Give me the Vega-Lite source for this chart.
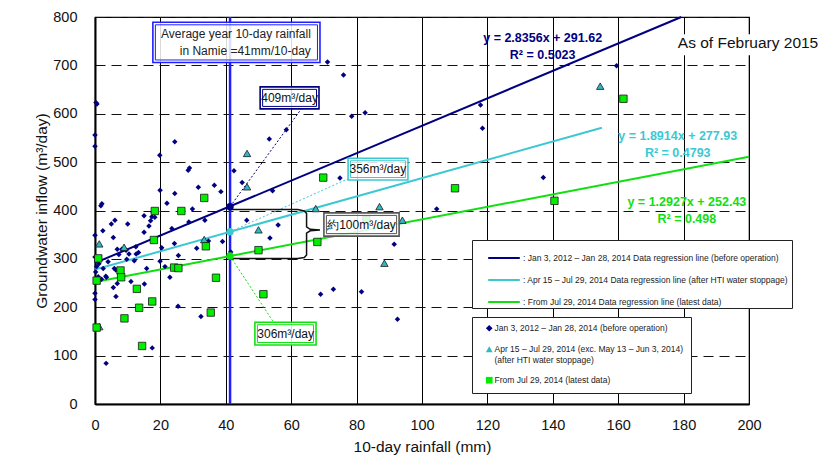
{
  "$schema": "https://vega.github.io/schema/vega-lite/v6.json",
  "width": 654,
  "height": 387,
  "autosize": {"type": "none"},
  "padding": {"left": 95, "top": 17, "right": 82, "bottom": 57},
  "background": "white",
  "config": {
    "view": {"stroke": "#000", "strokeWidth": 1.2},
    "font": "Liberation Sans"
  },
  "datasets": {
    "pts": [
      {"rain":0.3,"inflow":623,"series":"A"},{"rain":0.6,"inflow":620,"series":"A"},{"rain":0,"inflow":556,"series":"A"},{"rain":0,"inflow":533,"series":"A"},
      {"rain":1.8,"inflow":410,"series":"A"},{"rain":2.1,"inflow":414,"series":"A"},{"rain":0,"inflow":349,"series":"A"},{"rain":2.4,"inflow":358,"series":"A"},
      {"rain":5.0,"inflow":372,"series":"A"},{"rain":6.1,"inflow":380,"series":"A"},{"rain":5.6,"inflow":344,"series":"A"},{"rain":10,"inflow":372,"series":"A"},
      {"rain":15,"inflow":355,"series":"A"},{"rain":15,"inflow":389,"series":"A"},{"rain":16.5,"inflow":368,"series":"A"},{"rain":17,"inflow":379,"series":"A"},
      {"rain":17.4,"inflow":387,"series":"A"},{"rain":17.8,"inflow":396,"series":"A"},{"rain":19.9,"inflow":442,"series":"A"},{"rain":19.8,"inflow":514,"series":"A"},
      {"rain":22,"inflow":415,"series":"A"},{"rain":23.5,"inflow":363,"series":"A"},{"rain":24.4,"inflow":435,"series":"A"},{"rain":24.4,"inflow":542,"series":"A"},
      {"rain":28.5,"inflow":483,"series":"A"},{"rain":28.9,"inflow":488,"series":"A"},{"rain":29.8,"inflow":403,"series":"A"},{"rain":28.7,"inflow":376,"series":"A"},
      {"rain":31.6,"inflow":448,"series":"A"},{"rain":33.6,"inflow":380,"series":"A"},{"rain":36.5,"inflow":452,"series":"A"},{"rain":38.5,"inflow":439,"series":"A"},
      {"rain":42.5,"inflow":482,"series":"A"},{"rain":45,"inflow":458,"series":"A"},{"rain":46.4,"inflow":380,"series":"A"},{"rain":53.3,"inflow":548,"series":"A"},
      {"rain":54.3,"inflow":441,"series":"A"},{"rain":53.5,"inflow":343,"series":"A"},{"rain":56,"inflow":370,"series":"A"},{"rain":58.5,"inflow":567,"series":"A"},
      {"rain":71.1,"inflow":707,"series":"A"},{"rain":76,"inflow":680,"series":"A"},{"rain":78.5,"inflow":595,"series":"A"},{"rain":82.6,"inflow":602,"series":"A"},
      {"rain":74.9,"inflow":467,"series":"A"},{"rain":159.5,"inflow":699,"series":"A"},{"rain":117.9,"inflow":618,"series":"A"},{"rain":118.5,"inflow":570,"series":"A"},
      {"rain":137.1,"inflow":468,"series":"A"},{"rain":104.5,"inflow":403,"series":"A"},{"rain":91.5,"inflow":330,"series":"A"},{"rain":69,"inflow":227,"series":"A"},
      {"rain":72.9,"inflow":237,"series":"A"},{"rain":81.5,"inflow":232,"series":"A"},{"rain":92.5,"inflow":175,"series":"A"},{"rain":0,"inflow":304,"series":"A"},
      {"rain":0.2,"inflow":273,"series":"A"},{"rain":0.5,"inflow":284,"series":"A"},{"rain":0,"inflow":229,"series":"A"},{"rain":0,"inflow":216,"series":"A"},
      {"rain":1,"inflow":263,"series":"A"},{"rain":2,"inflow":258,"series":"A"},{"rain":3.3,"inflow":264,"series":"A"},{"rain":3.5,"inflow":262,"series":"A"},
      {"rain":4,"inflow":294,"series":"A"},{"rain":2.5,"inflow":280,"series":"A"},{"rain":5.6,"inflow":241,"series":"A"},{"rain":5.9,"inflow":280,"series":"A"},
      {"rain":6.4,"inflow":277,"series":"A"},{"rain":6.4,"inflow":222,"series":"A"},{"rain":6.8,"inflow":249,"series":"A"},{"rain":6.8,"inflow":320,"series":"A"},
      {"rain":7.3,"inflow":309,"series":"A"},{"rain":8.2,"inflow":320,"series":"A"},{"rain":9.5,"inflow":318,"series":"A"},{"rain":9.7,"inflow":299,"series":"A"},
      {"rain":10.4,"inflow":310,"series":"A"},{"rain":11,"inflow":253,"series":"A"},{"rain":12,"inflow":296,"series":"A"},{"rain":12.5,"inflow":325,"series":"A"},
      {"rain":13.3,"inflow":313,"series":"A"},{"rain":15.1,"inflow":248,"series":"A"},{"rain":15.8,"inflow":280,"series":"A"},{"rain":17.5,"inflow":116,"series":"A"},
      {"rain":18.3,"inflow":386,"series":"A"},{"rain":19.9,"inflow":295,"series":"A"},{"rain":20.4,"inflow":323,"series":"A"},{"rain":21.4,"inflow":284,"series":"A"},
      {"rain":22.9,"inflow":262,"series":"A"},{"rain":24.3,"inflow":332,"series":"A"},{"rain":25.4,"inflow":202,"series":"A"},{"rain":25.5,"inflow":307,"series":"A"},
      {"rain":31.1,"inflow":322,"series":"A"},{"rain":32.4,"inflow":181,"series":"A"},{"rain":34.7,"inflow":337,"series":"A"},{"rain":39,"inflow":336,"series":"A"},
      {"rain":41.5,"inflow":314,"series":"A"},{"rain":3.4,"inflow":84,"series":"A"},{"rain":12.6,"inflow":310,"series":"A"},{"rain":1.2,"inflow":290,"series":"A"},
      {"rain":1.3,"inflow":331,"series":"B"},{"rain":1.3,"inflow":160,"series":"B"},{"rain":8.9,"inflow":324,"series":"B"},{"rain":33.4,"inflow":340,"series":"B"},
      {"rain":46.5,"inflow":518,"series":"B"},{"rain":46.5,"inflow":449,"series":"B"},{"rain":50,"inflow":360,"series":"B"},{"rain":67.5,"inflow":404,"series":"B"},
      {"rain":87,"inflow":408,"series":"B"},{"rain":88.5,"inflow":291,"series":"B"},{"rain":94,"inflow":380,"series":"B"},{"rain":154.5,"inflow":657,"series":"B"},
      {"rain":1,"inflow":301,"series":"C"},{"rain":0.5,"inflow":255,"series":"C"},{"rain":0.5,"inflow":158,"series":"C"},{"rain":7.8,"inflow":276,"series":"C"},
      {"rain":8,"inflow":262,"series":"C"},{"rain":9,"inflow":177,"series":"C"},{"rain":12.8,"inflow":238,"series":"C"},{"rain":13.5,"inflow":199,"series":"C"},
      {"rain":14.4,"inflow":120,"series":"C"},{"rain":17.5,"inflow":212,"series":"C"},{"rain":18,"inflow":339,"series":"C"},{"rain":18.3,"inflow":399,"series":"C"},
      {"rain":24.2,"inflow":282,"series":"C"},{"rain":25.5,"inflow":281,"series":"C"},{"rain":26.4,"inflow":399,"series":"C"},{"rain":33.4,"inflow":426,"series":"C"},
      {"rain":33.9,"inflow":326,"series":"C"},{"rain":35.4,"inflow":189,"series":"C"},{"rain":37,"inflow":261,"series":"C"},{"rain":50,"inflow":318,"series":"C"},
      {"rain":51.5,"inflow":227,"series":"C"},{"rain":68,"inflow":335,"series":"C"},{"rain":69.8,"inflow":468,"series":"C"},{"rain":83,"inflow":380,"series":"C"},
      {"rain":110.1,"inflow":446,"series":"C"},{"rain":140.5,"inflow":420,"series":"C"},{"rain":161.6,"inflow":631,"series":"C"}
    ],
    "reg": [
      {"rain":0,"inflow":291.6,"reg":"LA"},{"rain":179.3,"inflow":800,"reg":"LA"},
      {"rain":0,"inflow":277.9,"reg":"LB"},{"rain":155,"inflow":571,"reg":"LB"},
      {"rain":0,"inflow":252.4,"reg":"LC"},{"rain":200,"inflow":511,"reg":"LC"}
    ],
    "conn": [
      {"rain":41.3,"inflow":408,"reg":"A"},{"rain":63.2,"inflow":611,"reg":"A"},
      {"rain":41.3,"inflow":356,"reg":"B"},{"rain":77.5,"inflow":466,"reg":"B"},
      {"rain":41.3,"inflow":306,"reg":"C"},{"rain":54.5,"inflow":170,"reg":"C"}
    ],
    "mark41": [
      {"rain":41.3,"inflow":408,"reg":"A"},{"rain":41.3,"inflow":356,"reg":"B"},{"rain":41.3,"inflow":306,"reg":"C"}
    ],
    "brace": [
      {"rain":41.3,"inflow":402,"o":1},{"rain":62,"inflow":402,"o":2},{"rain":64,"inflow":399,"o":3},{"rain":64.7,"inflow":394,"o":4},
      {"rain":64.7,"inflow":366,"o":5},{"rain":65.8,"inflow":361,"o":6},{"rain":68.8,"inflow":359.5,"o":7},{"rain":65.8,"inflow":358,"o":8},
      {"rain":64.7,"inflow":353,"o":9},{"rain":64.7,"inflow":308,"o":10},{"rain":64,"inflow":303,"o":11},{"rain":62,"inflow":301,"o":12},
      {"rain":41.3,"inflow":301,"o":13}
    ],
    "avgline": [{"rain":41.3}],
    "boxes": [
      {"rain":17.7,"rain2":68.8,"inflow":789,"inflow2":706,"col":"avg"},
      {"rain":50.5,"rain2":68.5,"inflow":655.6,"inflow2":610,"col":"A"},
      {"rain":77.4,"rain2":95.7,"inflow":508,"inflow2":463,"col":"B"},
      {"rain":48.9,"rain2":67.6,"inflow":169,"inflow2":122,"col":"C"},
      {"rain":70.0,"rain2":93.0,"inflow":395,"inflow2":347,"col":"grey"}
    ],
    "bg": [{"rain":178,"rain2":221.4,"inflow":764.5,"inflow2":721}],
    "notes": [
      {"rain":136.9,"inflow":756,"text":"y = 2.8356x + 291.62","col":"A","g":"eq"},
      {"rain":136.9,"inflow":721,"text":"R² = 0.5023","col":"A","g":"eq"},
      {"rain":178.2,"inflow":554,"text":"y = 1.8914x + 277.93","col":"B","g":"eq"},
      {"rain":178.2,"inflow":519,"text":"R² = 0.4793","col":"B","g":"eq"},
      {"rain":181,"inflow":417,"text":"y = 1.2927x + 252.43","col":"C","g":"eq"},
      {"rain":181,"inflow":382,"text":"R² = 0.498","col":"C","g":"eq"},
      {"rain":59.5,"inflow":633,"text":"409m³/day","g":"lab"},
      {"rain":86.5,"inflow":485.5,"text":"356m³/day","g":"lab"},
      {"rain":58.3,"inflow":145.7,"text":"306m³/day","g":"lab"},
      {"rain":81.5,"inflow":371,"text":"約100m³/day","g":"lab"},
      {"rain":66.0,"inflow":764,"text":"Average year 10-day rainfall","g":"avg"},
      {"rain":66.0,"inflow":729,"text":"in Namie =41mm/10-day","g":"avg"},
      {"rain":199.7,"inflow":746,"text":"As of February 2015","g":"asof"}
    ]
  },
  "layer": [
    {
      "data": {"name": "bg"},
      "mark": {"type": "rect", "fill": "white"},
      "encoding": {
        "x": {"field": "rain", "type": "quantitative",
          "scale": {"domain": [0, 200], "nice": false, "zero": false},
          "axis": {"title": "10-day rainfall (mm)", "values": [0,20,40,60,80,100,120,140,160,180,200],
            "grid": true, "gridColor": "#000", "gridWidth": 1, "gridOpacity": 1, "ticks": false,
            "domainColor": "#000", "domainWidth": 2, "labelFontSize": 14.5, "labelColor": "#111",
            "labelPadding": 14, "labelFlush": false, "labelOverlap": false, "titleFontSize": 15.5,
            "titleFontWeight": "normal", "titleColor": "#111", "titlePadding": 8}},
        "x2": {"field": "rain2"},
        "y": {"field": "inflow", "type": "quantitative",
          "scale": {"domain": [0, 800], "nice": false},
          "axis": {"title": "Groundwater inflow (m³/day)", "values": [0,100,200,300,400,500,600,700,800],
            "grid": true, "gridColor": "#111", "gridDash": [10, 6], "gridWidth": 1, "gridOpacity": 1, "ticks": false,
            "domainColor": "#000", "domainWidth": 2, "labelFontSize": 14.5, "labelColor": "#111",
            "labelPadding": 18, "labelOverlap": false, "titleFontSize": 15.5, "titleFontWeight": "normal",
            "titleColor": "#111", "titlePadding": 3}},
        "y2": {"field": "inflow2"}
      }
    },
    {
      "data": {"name": "avgline"},
      "mark": {"type": "rule", "color": "#1f1fff", "strokeWidth": 2.5},
      "encoding": {"x": {"field": "rain", "type": "quantitative"}}
    },
    {
      "data": {"name": "reg"},
      "mark": {"type": "line", "strokeWidth": 2},
      "encoding": {
        "x": {"field": "rain", "type": "quantitative"},
        "y": {"field": "inflow", "type": "quantitative"},
        "stroke": {"field": "reg", "type": "nominal",
          "scale": {"domain": ["LA","LB","LC"], "range": ["#000080","#3cc8d2","#10e010"]},
          "legend": {"title": null, "orient": "none", "legendX": 377, "legendY": 223, "direction": "vertical",
            "fillColor": "white", "strokeColor": "#222", "padding": 1, "symbolType": "stroke", "symbolSize": 1000,
            "symbolStrokeWidth": 2, "symbolOffset": 14, "labelFont": "Liberation Sans", "labelFontSize": 8.5,
            "labelColor": "#222", "labelOffset": 2, "rowPadding": -16, "labelLimit": 400,
            "labelExpr": "datum.value == 'LA' ? ': Jan 3, 2012 – Jan 28, 2014  Data regression line (before operation)' : datum.value == 'LB' ? ': Apr 15 – Jul 29, 2014  Data regression line (after HTI water stoppage)' : ': From Jul 29, 2014   Data regression line (latest data)'"}}
      }
    },
    {
      "data": {"name": "conn"},
      "mark": {"type": "line", "strokeWidth": 1, "strokeDash": [2, 2]},
      "encoding": {
        "x": {"field": "rain", "type": "quantitative"},
        "y": {"field": "inflow", "type": "quantitative"},
        "color": {"field": "reg", "type": "nominal",
          "scale": {"domain": ["A","B","C","avg","grey"], "range": ["#000080","#3cc8d2","#10e010","#1f1fff","#555555"]},
          "legend": null}
      }
    },
    {
      "data": {"name": "brace"},
      "mark": {"type": "line", "color": "#111", "strokeWidth": 1.5},
      "encoding": {
        "x": {"field": "rain", "type": "quantitative"},
        "y": {"field": "inflow", "type": "quantitative"},
        "order": {"field": "o", "type": "quantitative"}
      }
    },
    {
      "data": {"name": "pts"},
      "transform": [{"filter": "datum.series == 'A'"}],
      "mark": {"type": "point", "filled": true, "size": 30, "opacity": 1},
      "encoding": {
        "x": {"field": "rain", "type": "quantitative"},
        "y": {"field": "inflow", "type": "quantitative"},
        "fill": {"field": "series", "type": "nominal",
          "scale": {"domain": ["A","B","C"], "range": ["#000080","#30b8c4","#00ee00"]},
          "legend": {"title": null, "orient": "none", "legendX": 377, "legendY": 300, "direction": "vertical",
            "fillColor": "white", "strokeColor": "#222", "padding": 7, "symbolSize": 45,
            "symbolStrokeColor": "#222", "symbolStrokeWidth": 0.8, "symbolOffset": 6,
            "labelFont": "Liberation Sans", "labelFontSize": 8.5, "labelColor": "#222", "labelOffset": 1,
            "rowPadding": 10, "labelLimit": 400,
            "labelExpr": "datum.value == 'A' ? 'Jan 3, 2012 – Jan 28, 2014  (before operation)' : datum.value == 'B' ? ['Apr 15 – Jul 29, 2014 (exc. May 13 – Jun 3, 2014)', '(after HTI water stoppage)'] : 'From Jul 29, 2014  (latest data)'"}},
        "shape": {"field": "series", "type": "nominal",
          "scale": {"domain": ["A","B","C"], "range": ["diamond","triangle-up","square"]},
          "legend": {"title": null, "orient": "none", "legendX": 377, "legendY": 300, "direction": "vertical",
            "fillColor": "white", "strokeColor": "#222", "padding": 7, "symbolSize": 45,
            "symbolStrokeColor": "#222", "symbolStrokeWidth": 0.8, "symbolOffset": 6,
            "labelFont": "Liberation Sans", "labelFontSize": 8.5, "labelColor": "#222", "labelOffset": 1,
            "rowPadding": 10, "labelLimit": 400,
            "labelExpr": "datum.value == 'A' ? 'Jan 3, 2012 – Jan 28, 2014  (before operation)' : datum.value == 'B' ? ['Apr 15 – Jul 29, 2014 (exc. May 13 – Jun 3, 2014)', '(after HTI water stoppage)'] : 'From Jul 29, 2014  (latest data)'"}}
      }
    },
    {
      "data": {"name": "pts"},
      "transform": [{"filter": "datum.series != 'A'"}],
      "mark": {"type": "point", "filled": true, "size": 55, "opacity": 1, "stroke": "#1a1a1a", "strokeWidth": 0.8},
      "encoding": {
        "x": {"field": "rain", "type": "quantitative"},
        "y": {"field": "inflow", "type": "quantitative"},
        "fill": {"field": "series", "type": "nominal"},
        "shape": {"field": "series", "type": "nominal"}
      }
    },
    {
      "data": {"name": "mark41"},
      "mark": {"type": "point", "filled": true, "shape": "circle", "size": 55, "opacity": 1},
      "encoding": {
        "x": {"field": "rain", "type": "quantitative"},
        "y": {"field": "inflow", "type": "quantitative"},
        "color": {"field": "reg", "type": "nominal", "legend": null}
      }
    },
    {
      "data": {"name": "boxes"},
      "mark": {"type": "rect", "fill": "white", "fillOpacity": 0.85},
      "encoding": {
        "x": {"field": "rain", "type": "quantitative"}, "x2": {"field": "rain2"},
        "y": {"field": "inflow", "type": "quantitative"}, "y2": {"field": "inflow2"}
      }
    },
    {
      "data": {"name": "boxes"},
      "mark": {"type": "rect", "filled": false, "strokeWidth": 1.6},
      "encoding": {
        "x": {"field": "rain", "type": "quantitative"}, "x2": {"field": "rain2"},
        "y": {"field": "inflow", "type": "quantitative"}, "y2": {"field": "inflow2"},
        "color": {"field": "col", "type": "nominal", "legend": null}
      }
    },
    {
      "data": {"name": "boxes"},
      "mark": {"type": "rect", "filled": false, "strokeWidth": 1, "xOffset": 2.5, "x2Offset": -2.5, "yOffset": 2.5, "y2Offset": -2.5},
      "encoding": {
        "x": {"field": "rain", "type": "quantitative"}, "x2": {"field": "rain2"},
        "y": {"field": "inflow", "type": "quantitative"}, "y2": {"field": "inflow2"},
        "color": {"field": "col", "type": "nominal", "legend": null}
      }
    },
    {
      "data": {"name": "notes"},
      "transform": [{"filter": "datum.g == 'avg'"}],
      "mark": {"type": "text", "align": "right", "baseline": "middle", "fontSize": 12, "color": "#222"},
      "encoding": {
        "x": {"field": "rain", "type": "quantitative"},
        "y": {"field": "inflow", "type": "quantitative"},
        "text": {"field": "text"}
      }
    },
    {
      "data": {"name": "notes"},
      "transform": [{"filter": "datum.g == 'lab'"}],
      "mark": {"type": "text", "align": "center", "baseline": "middle", "fontSize": 12, "color": "#111"},
      "encoding": {
        "x": {"field": "rain", "type": "quantitative"},
        "y": {"field": "inflow", "type": "quantitative"},
        "text": {"field": "text"}
      }
    },
    {
      "data": {"name": "notes"},
      "transform": [{"filter": "datum.g == 'eq'"}],
      "mark": {"type": "text", "align": "center", "baseline": "middle", "fontSize": 12.5, "fontWeight": "bold"},
      "encoding": {
        "x": {"field": "rain", "type": "quantitative"},
        "y": {"field": "inflow", "type": "quantitative"},
        "text": {"field": "text"},
        "color": {"field": "col", "type": "nominal", "legend": null}
      }
    },
    {
      "data": {"name": "notes"},
      "transform": [{"filter": "datum.g == 'asof'"}],
      "mark": {"type": "text", "align": "center", "baseline": "middle", "fontSize": 15.5, "color": "#111"},
      "encoding": {
        "x": {"field": "rain", "type": "quantitative"},
        "y": {"field": "inflow", "type": "quantitative"},
        "text": {"field": "text"}
      }
    }
  ]
}
